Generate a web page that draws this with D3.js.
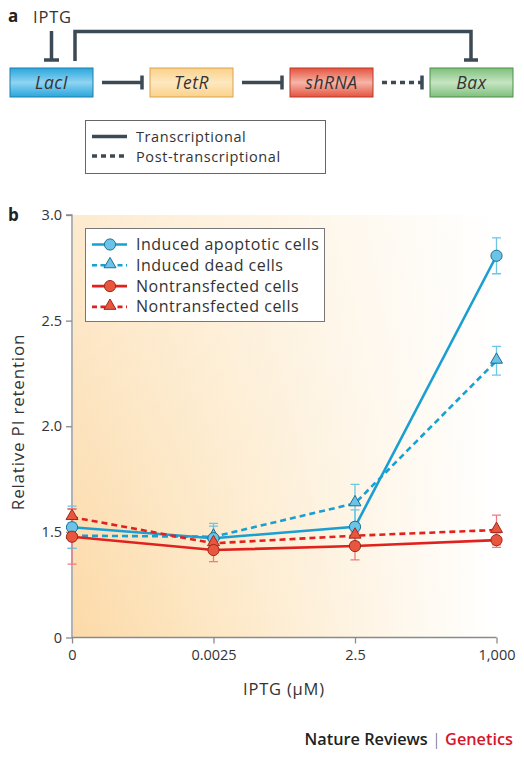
<!DOCTYPE html>
<html><head><meta charset="utf-8">
<script src="https://cdn.jsdelivr.net/npm/d3@7"></script>
<style>
html,body{margin:0;padding:0;background:#fff;}
svg{display:block;font-family:"Open Sans",sans-serif;}
</style></head>
<body>
<svg id="c" width="524" height="758"></svg>
<script>
// ---------- data ----------
const categories = ["0", "0.0025", "2.5", "1,000"];
const yTickValues = [1.0, 1.5, 2.0, 2.5, 3.0];
const yTickLabels = ["0", "1.5", "2.0", "2.5", "3.0"]; // broken axis: bottom tick labelled 0
const seriesNames = ["Induced apoptotic cells", "Induced dead cells", "Nontransfected cells", "Nontransfected cells"];
const apoptoticValues = [1.522, 1.470, 1.524, 2.807];
const apoptoticErrors = [0.10, 0.07, 0.08, 0.085];
const deadValues = [1.482, 1.477, 1.635, 2.310];
const deadErrors = [0.06, 0.05, 0.09, 0.068];
const nonCircleValues = [1.477, 1.414, 1.433, 1.461];
const nonCircleErrors = [0.13, 0.055, 0.066, 0.034];
const nonTriangleValues = [1.570, 1.446, 1.482, 1.509];
const nonTriangleErrors = [0.04, 0.03, 0.03, 0.07];
const genes = ["LacI", "TetR", "shRNA", "Bax"];
const diagramLegend = ["Transcriptional", "Post-transcriptional"];

const svg = d3.select("#c");
const defs = svg.append("defs");
const dark = "#3b4a54";

// ---------- panel a ----------
svg.append("text").attr("x", 8).attr("y", 22).attr("font-weight", "bold").attr("font-size", 17).attr("fill", "#222").text("a");
svg.append("text").attr("x", 33).attr("y", 23).attr("font-size", 16.5).attr("letter-spacing", 0.8).attr("fill", "#333").text("IPTG");

const boxColors = [
  {top: "#2aa6dc", mid: "#8fd4f2", stroke: "#1d7fae"},
  {top: "#fbd18a", mid: "#fee8c0", stroke: "#d9a44e"},
  {top: "#e4533e", mid: "#f6b5a8", stroke: "#b93a2a"},
  {top: "#7fc07c", mid: "#c5e4c1", stroke: "#4c8f4b"}
];
boxColors.forEach((c, i) => {
  const g = defs.append("linearGradient").attr("id", "bg" + i).attr("x1", 0).attr("x2", 0).attr("y1", 0).attr("y2", 1);
  g.append("stop").attr("offset", "0%").attr("stop-color", c.top);
  g.append("stop").attr("offset", "50%").attr("stop-color", c.mid);
  g.append("stop").attr("offset", "100%").attr("stop-color", c.top);
});
const gx = d3.scalePoint().domain(genes).range([51.5, 471.5]);
const boxW = 83, boxH = 29, boxY = 68;
const ga = svg.append("g");
ga.selectAll("rect.gene").data(genes).join("rect").attr("class", "gene")
  .attr("x", d => gx(d) - boxW / 2).attr("y", boxY).attr("width", boxW).attr("height", boxH)
  .attr("fill", (d, i) => `url(#bg${i})`).attr("stroke", (d, i) => boxColors[i].stroke).attr("stroke-width", 1);
ga.selectAll("text.gene").data(genes).join("text").attr("class", "gene")
  .attr("x", d => gx(d)).attr("y", boxY + 20.5).attr("text-anchor", "middle")
  .attr("font-style", "italic").attr("font-size", 17.5).attr("letter-spacing", 0.5).attr("fill", "#333").text(d => d);

// inhibition arrows between boxes
for (let i = 0; i < genes.length - 1; i++) {
  const x1 = gx(genes[i]) + boxW / 2 + 9, x2 = gx(genes[i + 1]) - boxW / 2 - 8;
  const y = boxY + boxH / 2;
  ga.append("line").attr("x1", x1).attr("x2", x2).attr("y1", y).attr("y2", y)
    .attr("stroke", dark).attr("stroke-width", 3.5).attr("stroke-dasharray", i === 2 ? "5,4" : null);
  ga.append("line").attr("x1", x2).attr("x2", x2).attr("y1", y - 7).attr("y2", y + 7).attr("stroke", dark).attr("stroke-width", 3.5);
}
// IPTG inhibits LacI
ga.append("line").attr("x1", 51.5).attr("x2", 51.5).attr("y1", 31).attr("y2", 60).attr("stroke", dark).attr("stroke-width", 3.5);
ga.append("line").attr("x1", 44).attr("x2", 59).attr("y1", 60).attr("y2", 60).attr("stroke", dark).attr("stroke-width", 3.5);
// LacI feedback to Bax
ga.append("path").attr("d", `M75,61 V31.5 H471 V60`).attr("fill", "none").attr("stroke", dark).attr("stroke-width", 3.5);
ga.append("line").attr("x1", 464).attr("x2", 478).attr("y1", 60).attr("y2", 60).attr("stroke", dark).attr("stroke-width", 3.5);

// diagram legend
ga.append("rect").attr("x", 85.5).attr("y", 120.5).attr("width", 240).attr("height", 53).attr("fill", "#fff").attr("stroke", "#666").attr("stroke-width", 1);
diagramLegend.forEach((t, i) => {
  const y = 136.5 + i * 19.5;
  ga.append("line").attr("x1", 92).attr("x2", 127).attr("y1", y).attr("y2", y).attr("stroke", dark).attr("stroke-width", 3.5)
    .attr("stroke-dasharray", i === 1 ? "5,4" : null);
  ga.append("text").attr("x", 136).attr("y", y + 5.5).attr("font-size", 14.5).attr("letter-spacing", 0.6).attr("fill", "#333").text(t);
});

// ---------- panel b ----------
svg.append("text").attr("x", 8).attr("y", 221).attr("font-weight", "bold").attr("font-size", 17).attr("fill", "#222").text("b");

const x = d3.scalePoint().domain(categories).range([72, 496.5]);
const y = d3.scaleLinear().domain([1.0, 3.0]).range([637.5, 215]);

// background gradient
const lgH = defs.append("linearGradient").attr("id", "bgH").attr("x1", 0).attr("x2", 1).attr("y1", 0).attr("y2", 0);
lgH.append("stop").attr("offset", "0%").attr("stop-color", "#fcdaa8");
lgH.append("stop").attr("offset", "35%").attr("stop-color", "#fde8c6");
lgH.append("stop").attr("offset", "70%").attr("stop-color", "#fef5e6");
lgH.append("stop").attr("offset", "100%").attr("stop-color", "#ffffff");
const lgV = defs.append("linearGradient").attr("id", "bgV").attr("x1", 0).attr("x2", 0).attr("y1", 0).attr("y2", 1);
lgV.append("stop").attr("offset", "0%").attr("stop-color", "#ffffff").attr("stop-opacity", 0.45);
lgV.append("stop").attr("offset", "100%").attr("stop-color", "#ffffff").attr("stop-opacity", 0);
svg.append("rect").attr("x", 73).attr("y", 215).attr("width", 424).attr("height", 423).attr("fill", "url(#bgH)");
svg.append("rect").attr("x", 73).attr("y", 215).attr("width", 424).attr("height", 423).attr("fill", "url(#bgV)");

// axes
const yAxis = d3.axisLeft(y).tickValues(yTickValues).tickSize(6).tickPadding(4)
  .tickFormat((d, i) => yTickLabels[i]);
const gy = svg.append("g").attr("transform", "translate(72,0)").call(yAxis);
gy.select(".domain").attr("d", `M-6,${y(3)}H0V${y(1)}`).attr("stroke", "#8a8a8a").attr("stroke-width", 1.3);
gy.selectAll(".tick line").attr("stroke", "#8a8a8a").attr("stroke-width", 1.3);
gy.selectAll(".tick text").attr("font-size", 14.5).attr("fill", "#333").attr("font-family", "Open Sans");

const xAxis = d3.axisBottom(x).tickSize(6).tickPadding(6);
const gxa = svg.append("g").attr("transform", `translate(0,${y(1)})`).call(xAxis);
gxa.select(".domain").attr("d", `M72,0H496.5`).attr("stroke", "#8a8a8a").attr("stroke-width", 1.3);
gxa.selectAll(".tick line").attr("stroke", "#8a8a8a").attr("stroke-width", 1.3);
gxa.selectAll(".tick text").attr("font-size", 14.5).attr("fill", "#333").attr("font-family", "Open Sans");

svg.append("text").attr("transform", "translate(24,422) rotate(-90)").attr("text-anchor", "middle")
  .attr("font-size", 17).attr("letter-spacing", 0.8).attr("fill", "#333").text("Relative PI retention");
svg.append("text").attr("x", 284).attr("y", 695).attr("text-anchor", "middle")
  .attr("font-size", 16.5).attr("letter-spacing", 0.8).attr("fill", "#333").text("IPTG (\u03BCM)");

// series
const blueLine = "#1a9fd2", redLine = "#e0221f";
const series = [
  {name: seriesNames[1], values: deadValues, errors: deadErrors, line: blueLine, err: "#6cc6e6", fill: "#6cc3e8", stroke: "#1c6f92", dash: "6,4", shape: "tri"},
  {name: seriesNames[0], values: apoptoticValues, errors: apoptoticErrors, line: blueLine, err: "#6cc6e6", fill: "#6cc3e8", stroke: "#1c6f92", dash: null, shape: "circ"},
  {name: seriesNames[3], values: nonTriangleValues, errors: nonTriangleErrors, line: redLine, err: "#ee7a80", fill: "#e8563e", stroke: "#9c2a1c", dash: "6,4", shape: "tri"},
  {name: seriesNames[2], values: nonCircleValues, errors: nonCircleErrors, line: redLine, err: "#ee7a80", fill: "#e8563e", stroke: "#9c2a1c", dash: null, shape: "circ"}
];
const pts = s => categories.map((c, i) => ({c, v: s.values[i], e: s.errors[i]}));
const gb = svg.append("g");
// error bars
series.forEach(s => {
  const g = gb.append("g");
  pts(s).forEach(p => {
    const cx = x(p.c), yt = y(p.v + p.e), yb = y(p.v - p.e);
    g.append("path").attr("d", `M${cx},${yt}V${yb}M${cx - 4.5},${yt}H${cx + 4.5}M${cx - 4.5},${yb}H${cx + 4.5}`)
      .attr("stroke", s.err).attr("stroke-width", 1.3).attr("fill", "none");
  });
});
const line = d3.line().x(p => x(p.c)).y(p => y(p.v));
series.forEach(s => {
  gb.append("path").datum(pts(s)).attr("d", line).attr("fill", "none").attr("stroke", s.line)
    .attr("stroke-width", 2.6).attr("stroke-dasharray", s.dash);
});
const triSym = d3.symbol().type(d3.symbolTriangle).size(62);
function marker(g, s, cx, cy) {
  if (s.shape === "circ") g.append("circle").attr("cx", cx).attr("cy", cy).attr("r", 5.6).attr("fill", s.fill).attr("stroke", s.stroke).attr("stroke-width", 1);
  else g.append("path").attr("d", triSym()).attr("transform", `translate(${cx},${cy - 1})`).attr("fill", s.fill).attr("stroke", s.stroke).attr("stroke-width", 1);
}
series.forEach(s => pts(s).forEach(p => marker(gb, s, x(p.c), y(p.v))));

// legend
const lg = svg.append("g");
lg.append("rect").attr("x", 85.5).attr("y", 228.5).attr("width", 239).attr("height", 93).attr("fill", "#fff").attr("stroke", "#777").attr("stroke-width", 1);
const legendOrder = [series[1], series[0], series[3], series[2]];
legendOrder.forEach((s, i) => {
  const ly = 244.5 + i * 20.8;
  lg.append("line").attr("x1", 92).attr("x2", 127).attr("y1", ly).attr("y2", ly).attr("stroke", s.line).attr("stroke-width", 2.6)
    .attr("stroke-dasharray", s.dash ? "5,3.5" : null);
  marker(lg, s, 110, ly);
  lg.append("text").attr("x", 136).attr("y", ly + 5.5).attr("font-size", 16).attr("letter-spacing", 0.5).attr("fill", "#333").text(s.name);
});

// footer
const ft = svg.append("text").attr("x", 513).attr("y", 745).attr("text-anchor", "end").attr("font-size", 16.3).attr("font-weight", 600);
ft.append("tspan").attr("fill", "#222").text("Nature Reviews ");
ft.append("tspan").attr("fill", "#555").attr("font-weight", 300).text("| ");
ft.append("tspan").attr("fill", "#d5172b").text("Genetics");
</script>
</body></html>
